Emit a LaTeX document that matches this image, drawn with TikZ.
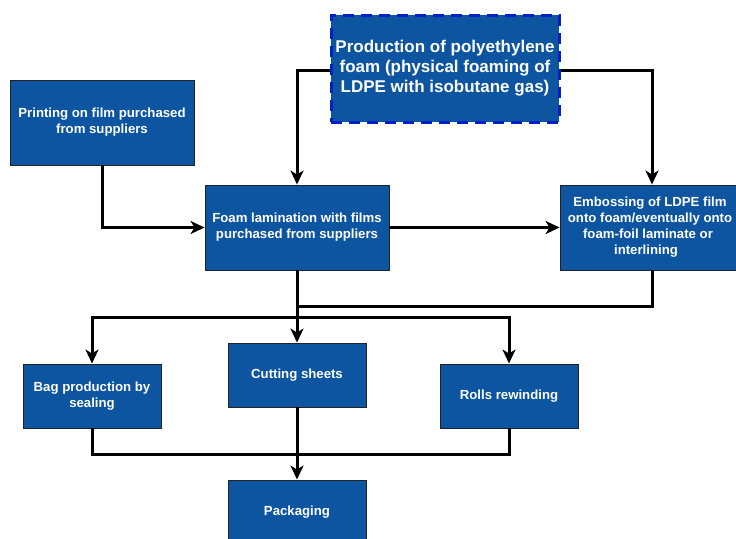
\documentclass[tikz,border=0pt]{standalone}
\usepackage{fontspec}
\setmainfont{Liberation Sans}
\usetikzlibrary{arrows.meta}
\definecolor{boxblue}{HTML}{0D55A1}
\definecolor{dashblue}{HTML}{0020C8}
\definecolor{edgegray}{HTML}{222222}
\begin{document}
\begin{tikzpicture}[x=1pt,y=-1pt,
  procbox/.style={draw=edgegray, line width=0.9pt, fill=boxblue, text=white,
    font=\bfseries\fontsize{13.2}{16}\selectfont, align=center, inner sep=0pt, anchor=center},
  flow/.style={line width=3pt, -{Stealth[length=14pt,width=13pt,inset=4pt]}},
  plain/.style={line width=3pt}]
\useasboundingbox (0,0) rectangle (736,538);
\node[procbox, draw=dashblue, line width=3pt, dash pattern=on 11pt off 7pt,
  minimum width=228pt, minimum height=107pt,
  font=\bfseries\fontsize{17}{20}\selectfont] (prod) at (445,68.5)
  {Production of polyethylene\\foam (physical foaming of\\LDPE with isobutane gas)};
\node[procbox, minimum width=184pt, minimum height=85pt] (print) at (102,122.5)
  {Printing on film purchased\\from suppliers};
\node[procbox, minimum width=184pt, minimum height=85pt] (lam) at (297,227.5)
  {Foam lamination with films\\purchased from suppliers};
\node[procbox, minimum width=184pt, minimum height=85pt] (emb) at (652,227.5)
  {\hspace*{-4pt}Embossing of LDPE film\\\hspace*{-4pt}onto foam/eventually onto\\\hspace*{-8pt}foam-foil laminate or\\\hspace*{-12pt}interlining};
\node[procbox, minimum width=138pt, minimum height=64pt] (bag) at (92,396)
  {Bag production by\\sealing};
\node[procbox, minimum width=138pt, minimum height=64pt] (cut) at (297,375)
  {Cutting sheets};
\node[procbox, minimum width=138pt, minimum height=64pt] (rolls) at (509,396)
  {Rolls rewinding};
\node[procbox, minimum width=138pt, minimum height=64pt] (pack) at (297,512)
  {Packaging};
\coordinate (j1) at (297,306);
\coordinate (j2) at (297,317);
\coordinate (j3) at (297,454);
% top connectors
\draw[flow] (prod.west |- 0,70) -| (lam.north);
\draw[flow] (prod.east |- 0,70) -| (emb.north);
\draw[flow] (print.south) |- (lam.west);
\draw[flow] (lam.east) -- (emb.west);
% middle
\draw[plain] (lam.south) -- (j2);
\draw[plain] (emb.south) |- (j1);
\draw[flow] (j2) -- (cut.north);
\draw[flow] (j2) -| (bag.north);
\draw[flow] (j2) -| (rolls.north);
% bottom
\draw[plain] (bag.south) |- (j3);
\draw[plain] (rolls.south) |- (j3);
\draw[flow] (cut.south) -- (pack.north);
\end{tikzpicture}
\end{document}
